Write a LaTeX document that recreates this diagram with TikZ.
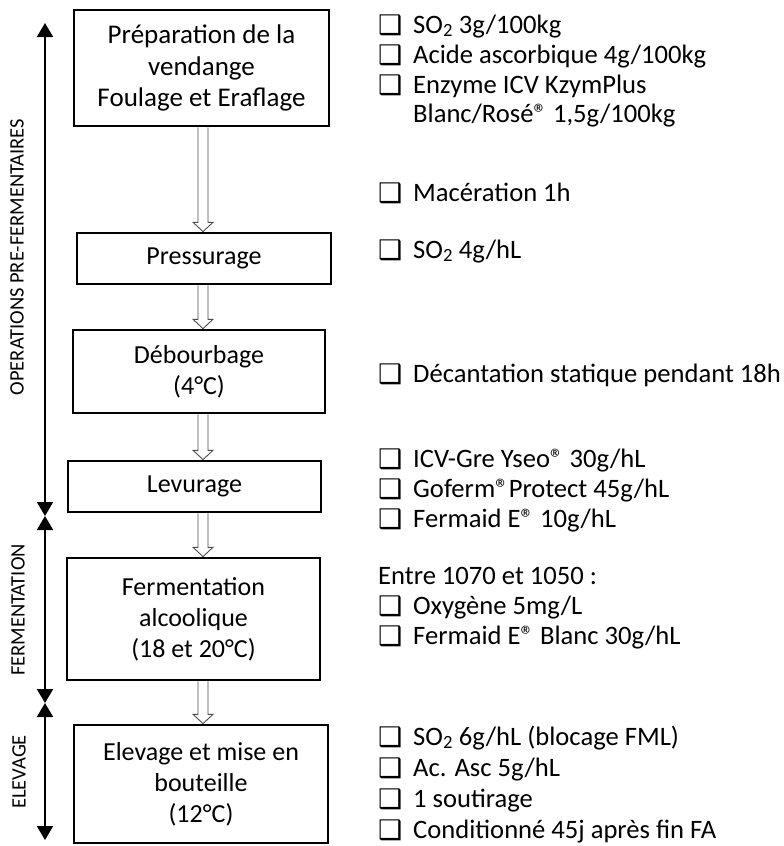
\documentclass[tikz,border=0pt]{standalone}
\usepackage{fontspec}
\setmainfont{Carlito}
\newfontfamily\symfont{DejaVu Sans}
\usetikzlibrary{arrows.meta,calc}
\newcommand{\cbx}{\makebox[35pt][l]{\smash{\raisebox{-1pt}{\symfont\fontsize{27}{27}\selectfont ❑}}}}
\begin{document}
\begin{tikzpicture}[x=1pt,y=-1pt, font=\fontsize{26}{31}\selectfont,
 box/.style={draw=black, line width=1.4pt, inner sep=0pt, align=center},
 item/.style={anchor=base west, inner sep=0pt, font=\fontsize{26.6}{31}\selectfont},
 hollow/.style={draw=black!70, line width=0.9pt, fill=white},
 span/.style={line width=2pt, {Triangle[width=16pt,length=14pt]}-{Triangle[width=16pt,length=14pt]}},
 side/.style={rotate=90, inner sep=0pt, font=\fontsize{20.5}{24}\selectfont}]
\useasboundingbox (0,0) rectangle (784,846);
% boxes
\node[box, minimum width=255pt, minimum height=116pt, font=\fontsize{27}{31.5}\selectfont] (b1) at (201.5,68) {Préparation de la\\vendange\\Foulage et Eraflage};
\node[box, minimum width=254pt, minimum height=51pt] (b2) at (204,258.5) {Pressurage};
\node[box, minimum width=252pt, minimum height=83pt] (b3) at (199,371.5) {Débourbage\\(4°C)};
\node[box, minimum width=253pt, minimum height=51pt] (b4) at (194.5,486.5) {Levurage};
\node[box, minimum width=253pt, minimum height=122pt] (b5) at (193.5,619) {Fermentation\\alcoolique\\(18 et 20°C)};
\node[box, minimum width=254pt, minimum height=118pt] (b6) at (201,784) {Elevage et mise en\\bouteille\\(12°C)};
% hollow arrows
\coordinate (ax) at (203,0);
\foreach \a/\b in {b1/b2,b2/b3,b3/b4,b4/b5,b5/b6}{
 \draw[hollow] let \p1=(\a.south), \p2=(\b.north), \p3=(ax) in
  (\x3-5pt,\y1-0.7pt) -- (\x3-5pt,\y2+10pt) -- (\x3-10pt,\y2+10pt) -- (\x3,\y2+0.7pt)
  -- (\x3+10pt,\y2+10pt) -- (\x3+5pt,\y2+10pt) -- (\x3+5pt,\y1-0.7pt);
}
% left span arrows
\coordinate (l0) at (45,23);
\coordinate (l1) at (45,516);
\coordinate (l2) at (45,703);
\coordinate (l3) at (45,840);
\draw[span] (l0) -- (l1);
\draw[span] (l1) -- (l2);
\draw[span] (l2) -- (l3);
\node[side] (s1) at (17,257) {OPERATIONS PRE-FERMENTAIRES};
\node[side] (s2) at (18,610) {FERMENTATION};
\node[side] (s3) at (19,772) {ELEVAGE};
% right lists
\node[item] (r1) at (378,33) {\cbx SO\textsubscript{2} 3g/100kg};
\node[item] (r2) at (378,63) {\cbx Acide ascorbique 4g/100kg};
\node[item] (r3) at (378,93) {\cbx Enzyme ICV KzymPlus};
\node[item] (r4) at (413,122) {Blanc/Rosé® 1,5g/100kg};
\node[item] (r5) at (378,201) {\cbx Macération 1h};
\node[item] (r6) at (378,258) {\cbx SO\textsubscript{2} 4g/hL};
\node[item] (r7) at (378,382) {\cbx Décantation statique pendant 18h};
\node[item] (r8) at (378,467) {\cbx ICV-Gre Yseo® 30g/hL};
\node[item] (r9) at (378,497) {\cbx Goferm®Protect 45g/hL};
\node[item] (r10) at (378,527) {\cbx Fermaid E® 10g/hL};
\node[item] (r11) at (378,584) {Entre 1070 et 1050 :};
\node[item] (r12) at (378,614) {\cbx Oxygène 5mg/L};
\node[item] (r13) at (378,644) {\cbx Fermaid E® Blanc 30g/hL};
\node[item] (r14) at (378,745) {\cbx SO\textsubscript{2} 6g/hL (blocage FML)};
\node[item] (r15) at (378,776) {\cbx Ac. Asc 5g/hL};
\node[item] (r16) at (378,807) {\cbx 1 soutirage};
\node[item] (r17) at (378,838) {\cbx Conditionné 45j après fin FA};
\end{tikzpicture}
\end{document}
